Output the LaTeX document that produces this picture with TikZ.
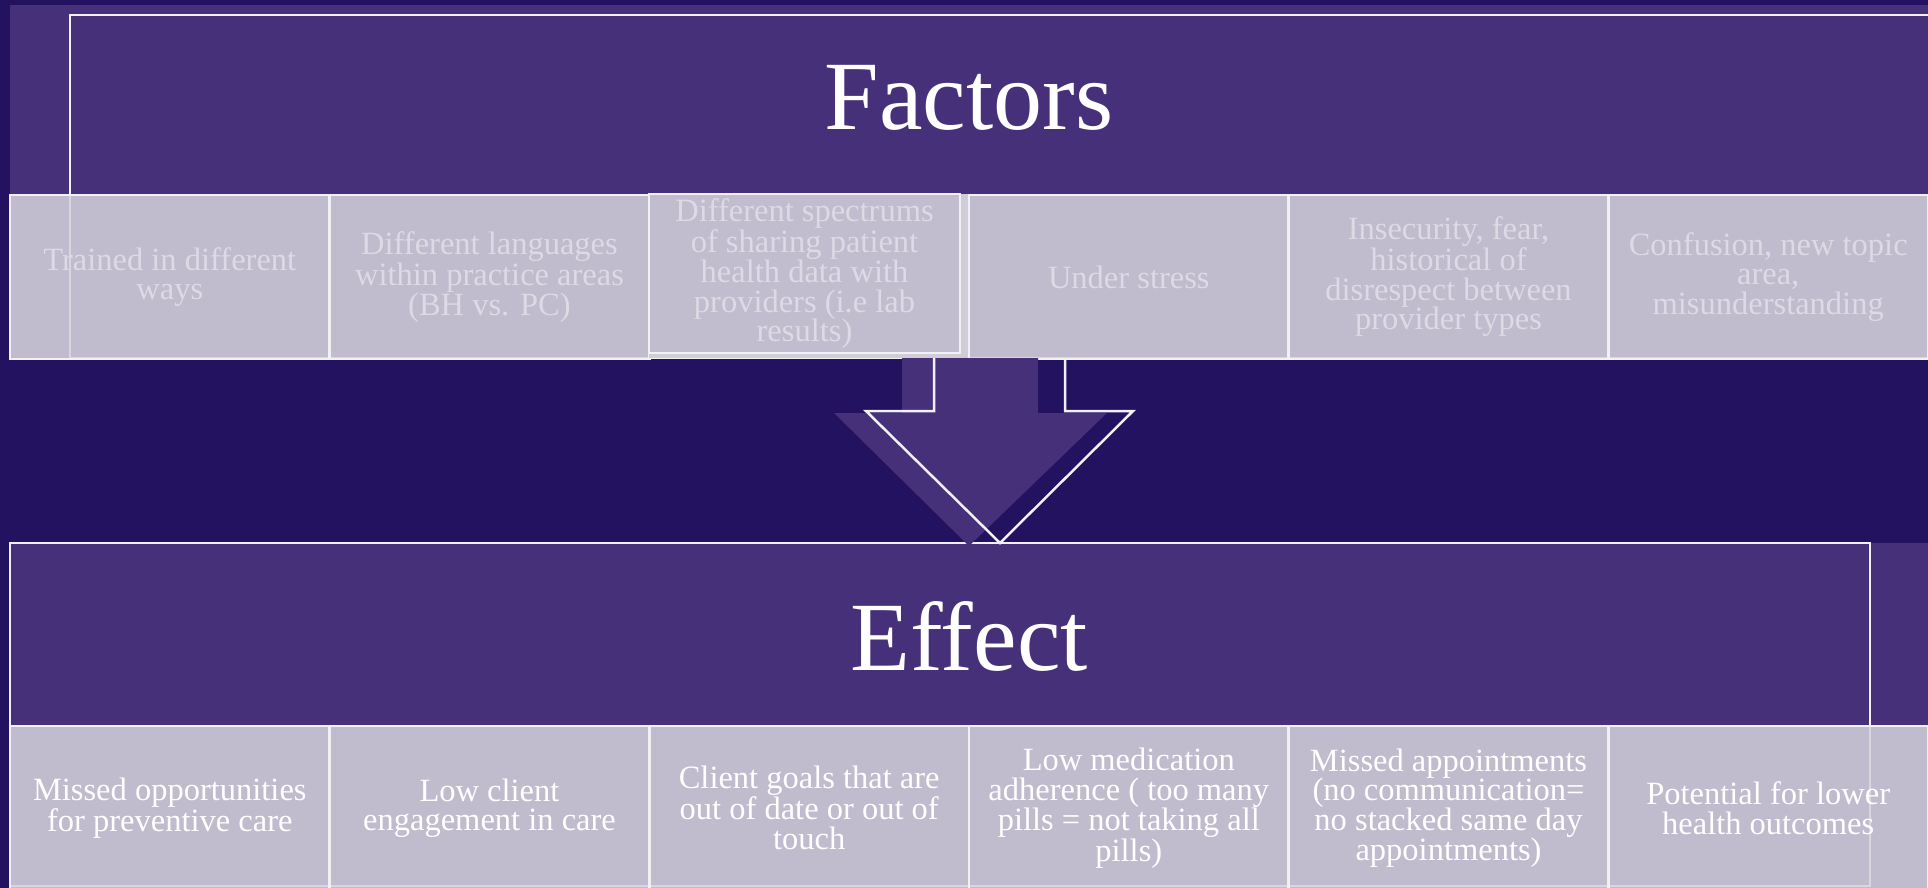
\documentclass[tikz,border=0pt]{standalone}
\usepackage{fontspec}
\setmainfont{Liberation Serif}
\usepackage{xcolor}
\definecolor{bgdark}{RGB}{34,18,96}
\definecolor{bandpurple}{RGB}{70,48,122}
\definecolor{cellfill}{RGB}{214,211,221}
\definecolor{cellsolid}{RGB}{193,189,206}
\definecolor{cellshade}{RGB}{208,205,216}
\definecolor{fainttext}{RGB}{221,218,229}
\definecolor{edge}{RGB}{240,240,245}

\begin{document}
\begin{tikzpicture}[x=1pt, y=-1pt,
        cell/.style={draw=edge, line width=2.5pt, fill=cellfill, fill opacity=0.88, text opacity=1,
                     minimum width=319.67pt, minimum height=164pt, inner sep=0pt, outer sep=0pt,
                     align=center, font=\rmfamily\fontsize{32.5}{29.5}\selectfont},
        factortext/.style={text=fainttext},
        effecttext/.style={text=white},
        title/.style={text=white, font=\rmfamily\fontsize{98}{100}\selectfont}]
        	\useasboundingbox (0,0) rectangle (1928,888);
        	\clip (0,0) rectangle (1928,888);
        	\fill[bgdark] (0,0) rectangle (1928,888);
        	\fill[bandpurple] (10,5) rectangle (1928,194);
        	\draw[edge, line width=2.5pt] (70,15) rectangle (1950,358);
        	\node[cell, factortext] (f1) at (169.8, 277) {Trained in different\\ways};
        	\node[cell, factortext] (f2) at (489.5, 277) {Different languages\\within practice areas\\(BH vs. PC)};
        	\fill[cellshade] (649,194) rectangle (969,358);
        	\node[cell, factortext, fill=cellsolid, fill opacity=1, minimum width=311pt, minimum height=159pt] (f3) at (804.5, 273.5) {Different spectrums\\of sharing patient\\health data with\\providers (i.e lab\\results)};
        	\node[cell, factortext] (f4) at (1128.8, 277) {Under stress};
        	\node[cell, factortext] (f5) at (1448.5, 277) {Insecurity, fear,\\historical of\\disrespect between\\provider types};
        	\node[cell, factortext] (f6) at (1768.2, 277) {Confusion, new topic\\area,\\misunderstanding};
        	\node[title] (factors) at (969, 98) {Factors};
        	\fill[bandpurple] (10,543) rectangle (1928,727);
        	\draw[edge, line width=2.5pt] (10,543) rectangle (1870,886);
        	\node[cell, effecttext] (e1) at (169.8, 808) {Missed opportunities\\for preventive care};
        	\node[cell, effecttext] (e2) at (489.5, 808) {Low client\\engagement in care};
        	\node[cell, effecttext] (e3) at (809.2, 808) {Client goals that are\\out of date or out of\\touch};
        	\node[cell, effecttext] (e4) at (1128.8, 808) {Low medication\\adherence ( too many\\pills = not taking all\\pills)};
        	\node[cell, effecttext] (e5) at (1448.5, 808) {Missed appointments\\(no communication=\\no stacked same day\\appointments)};
        	\node[cell, effecttext] (e6) at (1768.2, 808) {Potential for lower\\health outcomes};
        	\node[title] (effect) at (969, 636) {Effect};
        	\fill[bandpurple] (902,358) -- (902,413) -- (834,413) -- (969,546) -- (1107,413) -- (1038,413) -- (1038,358) -- cycle;
        	\draw[edge, line width=2.5pt, line join=miter] (934,358) -- (934,411) -- (866,411) -- (1000,543) -- (1133,411) -- (1065,411) -- (1065,358);
\end{tikzpicture}
\end{document}
